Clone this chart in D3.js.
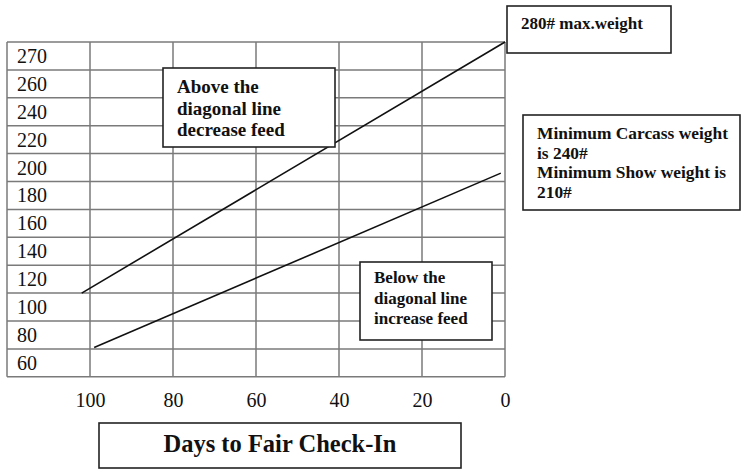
<!DOCTYPE html>
<html>
<head>
<meta charset="utf-8">
<script src="https://cdn.jsdelivr.net/npm/d3@7"></script>
<style>
  body { margin: 0; background: #fff; }
  svg text { font-family: "Liberation Serif", "Times New Roman", serif; fill: #111; }
</style>
</head>
<body>
<svg id="chart" width="741" height="470"></svg>
<script>
// weight written in each row of the table (top to bottom)
const rowLabels = ['270', '260', '240', '220', '200', '180', '160', '140', '120', '100', '80', '60']
// weight of each horizontal rule, top edge first
const ruleWeights = [280, 270, 260, 240, 220, 200, 180, 160, 140, 120, 100, 80, 60]
const dayTicks = [100, 80, 60, 40, 20, 0]
const gridDays = [120, 100, 80, 60, 40, 20, 0]

// the two diagonal target lines
const upperDays = [102, 0]
const upperWeights = [120, 280]
const lowerDays = [99, 1]
const lowerWeights = [81, 206]

var svg = d3.select('#chart')

var top_ = 42, rowH = 27.9

var x = d3.scaleLinear()
    .domain([100, 0])
    .range([90, 505])

// piecewise scale: every table row gets the same height
var y = d3.scaleLinear()
    .domain(ruleWeights)
    .range(ruleWeights.map((d, i) => top_ + i * rowH))

var left = x(120), right = x(0), bottom = y(60)

var grid = svg.append('g')
    .attr('stroke', '#7a7a7a')
    .attr('stroke-width', 1.5)

grid.selectAll('line.h')
    .data(ruleWeights)
    .join('line')
    .attr('class', 'h')
    .attr('x1', left).attr('x2', right)
    .attr('y1', d => y(d)).attr('y2', d => y(d))

grid.selectAll('line.v')
    .data(gridDays)
    .join('line')
    .attr('class', 'v')
    .attr('x1', d => x(d)).attr('x2', d => x(d))
    .attr('y1', top_).attr('y2', bottom)

// row labels sit inside the first column
svg.append('g').selectAll('text')
    .data(rowLabels)
    .join('text')
    .attr('x', left + 10)
    .attr('y', (d, i) => (y(ruleWeights[i]) + y(ruleWeights[i + 1])) / 2 + 7)
    .style('font-size', '20px')
    .text(d => d)

var axis = svg.append('g')
    .attr('transform', `translate(0,${bottom})`)
    .call(d3.axisBottom(x).tickValues(dayTicks).tickSize(0))
axis.select('.domain').remove()
axis.selectAll('text')
    .attr('y', 30).attr('dy', 0)
    .style('font-size', '20px')
    .style('font-family', '"Liberation Serif", serif')
    .attr('fill', '#111')

var line = d3.line()
    .x(d => x(d[0]))
    .y(d => y(d[1]))

for (let [days, weights] of [[upperDays, upperWeights], [lowerDays, lowerWeights]]) {
    svg.append('path')
	.datum(d3.zip(days, weights))
	.attr('d', line)
	.attr('fill', 'none')
	.attr('stroke', '#111')
	.attr('stroke-width', 1.6)
}

function note(bx, by, bw, bh, lines, size, lead, tx, ty) {
    var g = svg.append('g')
    g.append('rect')
	.attr('x', bx).attr('y', by)
	.attr('width', bw).attr('height', bh)
	.attr('fill', '#fff')
	.attr('stroke', '#222')
	.attr('stroke-width', 1.6)
    g.selectAll('text')
	.data(lines)
	.join('text')
	.attr('x', tx)
	.attr('y', (d, i) => ty + i * lead)
	.style('font-size', size + 'px')
	.style('font-weight', 'bold')
	.text(d => d)
    return g
}

note(163, 68, 172, 79, ['Above the', 'diagonal line', 'decrease feed'], 19, 21.5, 177, 93)
note(360, 262, 132, 78, ['Below the', 'diagonal line', 'increase feed'], 17, 20.5, 374, 283)
// max weight box hangs off the end of the upper line
note(x(0) + 2, 6, 164, 47, ['280# max.weight'], 17, 0, x(0) + 16, 29)
note(523, 115, 217, 95, ['Minimum Carcass weight', 'is 240#', 'Minimum Show weight is', '210#'], 17.4, 19.7, 537, 139)

var xl = note(99, 423, 362, 45, [], 24, 0, 0, 0)
xl.append('text')
    .attr('x', 280).attr('y', 452)
    .attr('text-anchor', 'middle')
    .style('font-size', '24.5px')
    .style('font-weight', 'bold')
    .text('Days to Fair Check-In')
</script>
</body>
</html>
